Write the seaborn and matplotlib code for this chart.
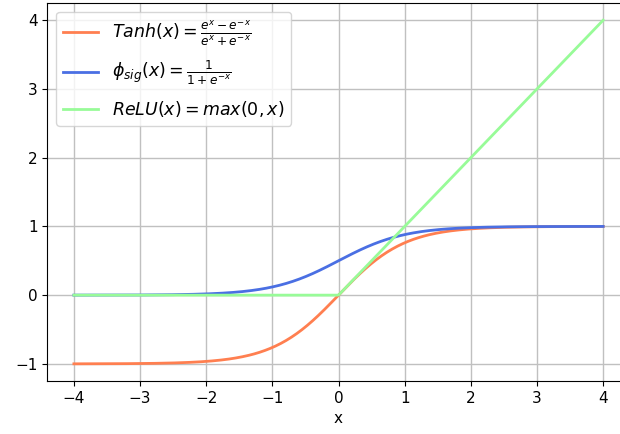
import numpy as np
import pandas as pd
import matplotlib
matplotlib.use("Agg")
import matplotlib.pyplot as plt
import seaborn as sns

# Sample grid for the activation curves
x = np.linspace(-4, 4, 400)
tanh_y = np.tanh(x)
sig_y = 1.0 / (1.0 + np.exp(-2.0 * x))
relu_y = np.maximum(0.0, x)

labels = [
    r'$Tanh(x)=\frac{e^x-e^{-x}}{e^x+e^{-x}}$',
    r'$\phi_{sig}(x)=\frac{1}{1+e^{-x}}$',
    r'$ReLU(x)=max(0,x)$',
]
colors = ['#ff7f50', '#4a6fe3', '#98fb98']
xticks = [-4, -3, -2, -1, 0, 1, 2, 3, 4]
yticks = [-1, 0, 1, 2, 3, 4]

df = pd.DataFrame({
    'x': np.concatenate([x, x, x]),
    'y': np.concatenate([tanh_y, sig_y, relu_y]),
    'f': np.repeat(labels, len(x)),
})

plt.rcParams['font.family'] = ['DejaVu Sans']
fig = plt.figure(figsize=(6.2, 4.34), dpi=100)
ax = fig.add_axes([0.0765, 0.122, 0.939, 0.871])

sns.lineplot(data=df, x='x', y='y', hue='f', hue_order=labels,
             palette=colors, linewidth=2, ax=ax)

ax.set_xticks(xticks)
ax.set_yticks(yticks)
ax.set_xlim(-4.4, 4.4)
ax.set_ylim(-1.25, 4.25)
ax.tick_params(labelsize=11)
ax.set_xlabel('x', fontsize=11)
ax.set_ylabel('')
ax.grid(True, color='#c0c0c0', linewidth=1.0)
ax.set_axisbelow(True)
ax.legend(loc='upper left', fontsize=12.5, handlelength=2.0, labelspacing=0.65)

fig.savefig('out.png', dpi=100)
